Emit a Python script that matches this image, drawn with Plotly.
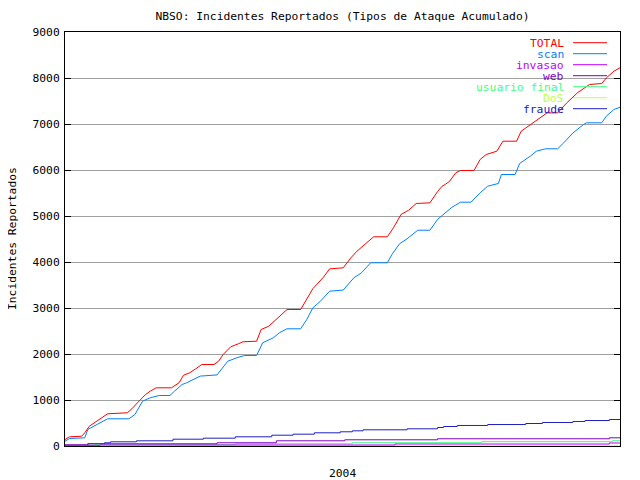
import plotly.graph_objects as go

# ---- data (x = day of 2004, y = cumulative incidents) ----
total_day = [0, 3, 11, 13, 16, 21, 25, 28, 41, 44, 48, 53, 56, 60, 70, 75, 78, 82, 86, 90, 98, 101, 104, 109, 114,
             117, 126, 129, 134, 139, 146, 155, 159, 163, 170, 174, 183, 188, 192, 196, 203, 212, 216, 221, 226,
             231, 240, 245, 248, 250, 253, 257, 260, 269, 273, 277, 284, 288, 297, 300, 306, 312, 317, 324, 330,
             337, 343, 345, 353, 356, 361, 365]
total_val = [141, 200, 213, 287, 430, 540, 635, 700, 722, 809, 952, 1120, 1191, 1265, 1265, 1374, 1539, 1591, 1678,
             1772, 1772, 1843, 1989, 2157, 2222, 2265, 2278, 2533, 2604, 2750, 2967, 2967, 3185, 3420, 3670, 3850,
             3874, 4091, 4235, 4343, 4548, 4548, 4743, 5033, 5126, 5272, 5286, 5530, 5648, 5685, 5757, 5939, 5989,
             5989, 6228, 6337, 6409, 6626, 6626, 6843, 6989, 7135, 7241, 7241, 7459, 7678, 7822, 7859, 7880, 8002,
             8148, 8222]

scan_day = [0, 3, 13, 15, 21, 28, 42, 46, 51, 56, 62, 69, 72, 77, 80, 88, 89, 100, 103, 107, 113, 118, 126, 130,
            137, 141, 146, 155, 159, 163, 168, 174, 183, 190, 195, 201, 212, 215, 220, 225, 232, 240, 245, 249,
            254, 260, 267, 273, 278, 285, 287, 296, 299, 306, 310, 316, 324, 328, 334, 341, 343, 353, 356, 361, 365]
scan_val = [104, 163, 178, 359, 467, 591, 591, 685, 974, 1048, 1098, 1098, 1191, 1337, 1374, 1504, 1520, 1545,
            1663, 1843, 1917, 1967, 1967, 2243, 2352, 2461, 2548, 2548, 2750, 3004, 3148, 3365, 3390, 3657, 3765,
            3983, 3983, 4163, 4396, 4504, 4691, 4691, 4924, 5033, 5178, 5300, 5300, 5504, 5648, 5707, 5902, 5902,
            6141, 6300, 6409, 6461, 6461, 6591, 6804, 6989, 7026, 7026, 7170, 7315, 7365]

invasao_day = [0, 23, 217, 358, 365]
invasao_val = [8, 22, 43, 65, 65]

web_day = [0, 15, 100, 139, 184, 245, 358, 365]
web_val = [26, 48, 70, 113, 135, 157, 178, 178]

usuario_day = [0, 20, 112, 189, 274, 360, 365]
usuario_val = [10, 28, 50, 72, 95, 115, 115]

dos_day = [0, 180, 365]
dos_val = [2, 5, 8]

fraude_day = [0, 15, 26, 30, 47, 71, 91, 112, 136, 150, 164, 181, 189, 196, 225, 245, 249, 258, 278, 303, 314,
              334, 342, 358, 365]
fraude_val = [17, 48, 70, 91, 113, 148, 170, 200, 235, 257, 287, 309, 330, 352, 374, 402, 424, 446, 467, 489, 511,
              533, 554, 576, 576]

series_names = ["TOTAL", "scan", "invasao", "web", "usuario final", "DoS", "fraude"]
series_colors = ["#ff0000", "#0080ff", "#c000ff", "#8000c0", "#40ff80", "#c0ff40", "#2020c0"]
series_x = [total_day, scan_day, invasao_day, web_day, usuario_day, dos_day, fraude_day]
series_y = [total_val, scan_val, invasao_val, web_val, usuario_val, dos_val, fraude_val]
series_shape = ["linear", "linear", "hv", "hv", "hv", "hv", "hv"]

title_text = "NBSO: Incidentes Reportados (Tipos de Ataque Acumulado)"
x_title = "2004"
y_title = "Incidentes Reportados"
y_ticks = [0, 1000, 2000, 3000, 4000, 5000, 6000, 7000, 8000, 9000]

FONT = "DejaVu Sans Mono"
FS = 11.3

fig = go.Figure()
# draw in reverse so TOTAL is on top
for name, col, xs, ys, shp in reversed(list(zip(series_names, series_colors, series_x, series_y, series_shape))):
    fig.add_trace(go.Scatter(x=xs, y=ys, mode="lines", name=name,
                             line=dict(color=col, width=1, shape=shp), showlegend=False))

# the page body adds an 8px offset; compensate so the plot lands where the reference has it
OFF = 8
W, H = 640, 480
# plot box in the reference picture: x 65..620, y 32..446
L, R, T, B = 65 - OFF, W - (620 - OFF), 32 - OFF, H - (446 - OFF)
pw, ph = W - L - R, H - T - B


def px_x(p):
    return (p - 65) / pw


def px_y(p):
    return (446 - p) / ph


# white key background hiding grid lines
fig.add_shape(type="rect", xref="paper", yref="paper", x0=px_x(476), x1=px_x(613), y0=px_y(117), y1=px_y(35),
              fillcolor="white", line=dict(width=0), layer="between")

# manual key: text right-aligned, then line sample
for i, (name, col) in enumerate(zip(series_names, series_colors)):
    yy = px_y(42.7 + 11 * i)
    fig.add_annotation(text=name, xref="paper", yref="paper", x=px_x(566), y=yy, xanchor="right",
                       yanchor="middle", showarrow=False, height=10,
                       font=dict(family=FONT, size=FS, color=col))
    fig.add_shape(type="line", xref="paper", yref="paper", x0=px_x(573), x1=px_x(607), y0=yy, y1=yy,
                  line=dict(color=col, width=1))

fig.add_annotation(text=x_title, xref="paper", yref="paper", x=0.5, y=px_y(473), xanchor="center",
                   yanchor="middle", showarrow=False, font=dict(family=FONT, size=FS, color="black"))
fig.add_annotation(text=y_title, xref="paper", yref="paper", x=px_x(12), y=0.5, xanchor="center",
                   yanchor="middle", textangle=-90, showarrow=False,
                   font=dict(family=FONT, size=FS, color="black"))

fig.update_layout(
    width=W, height=H,
    margin=dict(l=L, r=R, t=T, b=B, pad=0),
    paper_bgcolor="white", plot_bgcolor="white",
    title=dict(text=title_text, x=0.5, xref="paper", xanchor="center", y=1 - (15.7 - OFF) / H, yanchor="middle",
               font=dict(family=FONT, size=FS, color="black")),
    font=dict(family=FONT, size=FS, color="black"),
    showlegend=False,
    xaxis=dict(range=[0, 365], showgrid=False, zeroline=False, showticklabels=False, ticks="",
               showline=True, linecolor="black", linewidth=1, mirror=True),
    yaxis=dict(range=[0, 9000], tickvals=y_ticks, ticktext=[str(v) for v in y_ticks],
               showgrid=True, gridcolor="#a0a0a0", gridwidth=1, zeroline=False,
               ticks="inside", ticklen=6, tickcolor="black", tickwidth=1,
               showline=True, linecolor="black", linewidth=1, mirror="ticks",
               tickfont=dict(family=FONT, size=FS, color="black"), ticklabelstandoff=2),
)

fig.write_html("out.html")
